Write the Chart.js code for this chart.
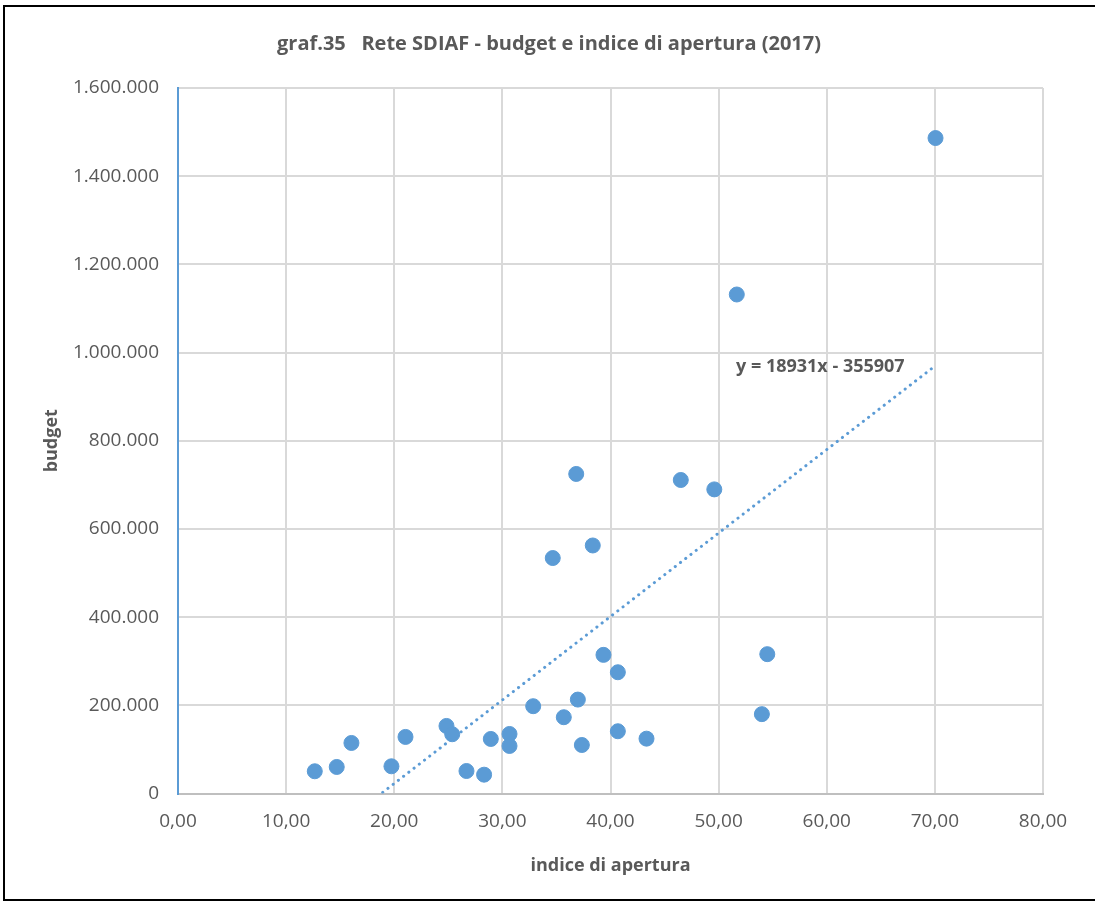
<!DOCTYPE html>
<html>
<head>
<meta charset="utf-8">
<script src="https://cdn.jsdelivr.net/npm/chart.js@4"></script>
<style>
  body { margin: 0; background: #fff; overflow: hidden; }
  #wrap { position: relative; width: 1095px; height: 901px; }
  #frame { position: absolute; left: 3px; top: 5px; width: 1100px; height: 892px; border: 2px solid #000; }
  #myChart { position: absolute; left: 0; top: 0; }
</style>
</head>
<body>
<div id="wrap">
  <div id="frame"></div>
  <canvas id="myChart" width="1095" height="901"></canvas>
</div>
<script>
// ----------------데이터----------------
// indice di apertura
const indice = [
  12.65, 14.68, 16.04, 19.74, 21.04, 24.83, 25.36, 26.68, 28.31, 28.93,
  30.66, 30.66, 32.85, 35.68, 36.98, 37.35, 39.35, 40.68, 40.68, 43.33,
  34.66, 36.83, 38.36, 46.50, 49.60, 51.68, 54.00, 54.50, 70.06
];
// budget
const budget = [
  50400, 60200, 114600, 61700, 128300, 153200, 134400, 51000, 42700, 123700,
  135000, 107800, 198000, 173000, 213000, 110000, 314400, 275000, 141200, 124400,
  534000, 724700, 562500, 711000, 689700, 1131700, 180000, 316000, 1486500
];
// 추세선 (y = 18931x - 355907)
const trendSlope = 18931;
const trendIntercept = -355907;

const titleText = "graf.35   Rete SDIAF - budget e indice di apertura (2017)";
const eqText = "y = 18931x - 355907";

const blue = "#5B9BD5";
const gray = "#595959";
const font = "'Open Sans', sans-serif";

const points = indice.map((x, i) => ({ x: x, y: budget[i] }));
const xMin = Math.min(...indice);
const xMax = Math.max(...indice);
const trend = [
  { x: xMin, y: trendSlope * xMin + trendIntercept },
  { x: xMax, y: trendSlope * xMax + trendIntercept },
];

// 숫자 포맷 (1.600.000 / 10,00)
function fmtThousands(v) {
  return String(Math.round(v)).replace(/\B(?=(\d{3})+(?!\d))/g, ".");
}

// ----------------제목 / 수식 플러그인----------------
const textPlugin = {
  id: "textPlugin",
  afterDraw(chart) {
    const c = chart.ctx;
    c.save();
    c.fillStyle = gray;
    c.font = "bold 20px " + font;
    c.textAlign = "center";
    c.textBaseline = "middle";
    c.fillText(titleText, 549, 44);

    // 수식 라벨
    c.font = "bold 18px " + font;
    c.textAlign = "left";
    c.fillText(eqText, 736, 367);
    c.restore();
  },
};

const config = {
  type: "scatter",
  data: {
    datasets: [
      {
        label: "budget",
        data: points,
        backgroundColor: blue,
        borderColor: blue,
        pointRadius: 7.5,
        pointHoverRadius: 7.5,
        order: 2,
      },
      {
        type: "line",
        label: "trend",
        data: trend,
        borderColor: blue,
        borderWidth: 3,
        borderDash: [0.1, 6.5],
        borderCapStyle: "round",
        pointRadius: 0,
        fill: false,
        order: 1,
      },
    ],
  },
  options: {
    responsive: false,
    animation: false,
    layout: {
      padding: { top: 88, right: 52, left: 0, bottom: 0 },
    },
    plugins: {
      legend: { display: false },
      tooltip: { enabled: false },
    },
    scales: {
      x: {
        type: "linear",
        min: 0,
        max: 80,
        ticks: {
          stepSize: 10,
          padding: 17,
          color: gray,
          font: { family: font, size: 19 },
          callback: (v) => v.toFixed(2).replace(".", ","),
        },
        grid: { color: "#D9D9D9", lineWidth: 2, drawTicks: false },
        border: { color: "#BFBFBF", width: 2 },
        title: {
          display: true,
          text: "indice di apertura",
          color: gray,
          font: { family: font, size: 18, weight: "bold" },
          padding: { top: 0, bottom: 24 },
        },
        afterFit(scale) {
          scale.height = 107.5;
        },
      },
      y: {
        type: "linear",
        min: 0,
        max: 1600000,
        ticks: {
          stepSize: 200000,
          padding: 19,
          color: gray,
          font: { family: font, size: 19 },
          callback: (v) => fmtThousands(v),
        },
        grid: { color: "#D9D9D9", lineWidth: 2, drawTicks: false },
        border: { color: blue, width: 2 },
        title: {
          display: true,
          text: "budget",
          color: gray,
          font: { family: font, size: 18, weight: "bold" },
          padding: { top: 41, bottom: 0 },
        },
        afterFit(scale) {
          scale.width = 178;
        },
      },
    },
  },
  plugins: [textPlugin],
};

const ctx = document.getElementById("myChart");
new Chart(ctx, config);
</script>
</body>
</html>
